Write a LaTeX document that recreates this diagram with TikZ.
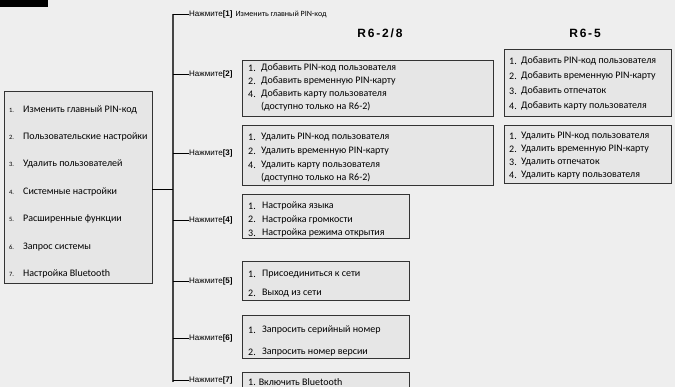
\documentclass[tikz,border=0pt]{standalone}
\usepackage{fontspec}
\setmainfont{Carlito}
\newfontfamily\arialf{Liberation Sans}
\definecolor{bgc}{HTML}{EEEEEE}
\definecolor{boxc}{HTML}{E6E6E6}
\definecolor{edgec}{HTML}{333333}
\definecolor{trunkc}{HTML}{444444}
\begin{document}
\begin{tikzpicture}[x=1pt,y=-1pt,
  box/.style={draw=edgec, fill=boxc, line width=0.8pt, inner sep=0pt, anchor=north west},
  item/.style={anchor=west, inner sep=0pt, text=black, font=\fontsize{10}{11}\selectfont},
  sitem/.style={anchor=west, inner sep=0pt, text=black, font=\fontsize{10}{11}\selectfont},
  num/.style={anchor=west, inner sep=0pt, text=black, font=\fontsize{6.5}{7}\selectfont},
  lbl/.style={anchor=west, inner sep=0pt, font=\arialf\fontsize{8}{9}\selectfont},
  ttl/.style={inner sep=0pt, font=\arialf\bfseries\fontsize{12}{13}\selectfont\addfontfeature{LetterSpace=15}},
  tick/.style={draw=black, line width=0.7pt},
  trunk/.style={draw=trunkc, line width=1.3pt}]
\fill[bgc] (0,0) rectangle (675,387);
\useasboundingbox (0,0) rectangle (675,387);
\fill[black] (0,0) rectangle (48,7);

% main menu box
\node[box, minimum width=148pt, minimum height=192pt] (menu) at (4,91) {};
\foreach \n/\t/\y in {1/Изменить главный PIN-код/110, 2/Пользовательские настройки/137, 3/Удалить пользователей/164, 4/Системные настройки/192, 5/Расширенные функции/219, 6/Запрос системы/247, 7/Настройка Bluetooth/274}{
  \node[num] (mn\n) at (9,\y) {\n.};
  \node[sitem] (mt\n) at (23,\y) {\t};
}

% trunk
\coordinate (ttop) at (173,14);
\coordinate (tbot) at (173,382);
\coordinate (tmid) at (173,189);
\draw[trunk] (ttop) -- (tbot);
\coordinate (mout) at (152,189);
\draw[tick] (mout) -- (tmid);

% labels
\node[lbl] (l1) at (189,14) {Нажмите\textbf{[1]}\hspace{3pt}{\rmfamily\fontsize{8}{9}\selectfont Изменить главный PIN-код}};
\node[lbl] (l2) at (189,74) {Нажмите\textbf{[2]}};
\node[lbl] (l3) at (189,153) {Нажмите\textbf{[3]}};
\node[lbl] (l4) at (189,220) {Нажмите\textbf{[4]}};
\node[lbl] (l5) at (189,281) {Нажмите\textbf{[5]}};
\node[lbl] (l6) at (189,338) {Нажмите\textbf{[6]}};
\node[lbl] (l7) at (189,380) {Нажмите\textbf{[7]}};
\foreach \k in {1,...,7}{
  \draw[tick] (l\k.west -| ttop) -- (l\k.west);
}

% titles
\node[ttl] (t1) at (380,33) {R6-2/8};
\node[ttl] (t2) at (585,33) {R6-5};

% [2] box R6-2/8
\node[box, minimum width=251pt, minimum height=56pt] (b2) at (242,60) {};
\node[item] at (248,68) {1.};  \node[item] at (261,68) {Добавить PIN-код пользователя};
\node[item] at (248,81) {2.};  \node[item] at (261,81) {Добавить временную PIN-карту};
\node[item] at (248,94) {4.};  \node[item] at (261,94) {Добавить карту пользователя};
\node[item] at (261,107) {(доступно только на R6-2)};

% [3] box R6-2/8
\node[box, minimum width=251pt, minimum height=60pt] (b3) at (242,125) {};
\node[item] at (248,137) {1.};  \node[item] at (261,137) {Удалить PIN-код пользователя};
\node[item] at (248,151) {2.};  \node[item] at (261,151) {Удалить временную PIN-карту};
\node[item] at (248,165) {4.};  \node[item] at (261,165) {Удалить карту пользователя};
\node[item] at (261,178) {(доступно только на R6-2)};

% R6-5 boxes
\node[box, minimum width=167pt, minimum height=67pt] (c2) at (504,49) {};
\node[item] at (509,61) {1.};  \node[item] at (521,61) {Добавить PIN-код пользователя};
\node[item] at (509,76) {2.};  \node[item] at (521,76) {Добавить временную PIN-карту};
\node[item] at (509,91) {3.};  \node[item] at (521,91) {Добавить отпечаток};
\node[item] at (509,106) {4.}; \node[item] at (521,106) {Добавить карту пользователя};

\node[box, minimum width=167pt, minimum height=58pt] (c3) at (504,125) {};
\node[item] at (509,136) {1.};  \node[item] at (521,136) {Удалить PIN-код пользователя};
\node[item] at (509,149) {2.};  \node[item] at (521,149) {Удалить временную PIN-карту};
\node[item] at (509,162) {3.};  \node[item] at (521,162) {Удалить отпечаток};
\node[item] at (509,175) {4.};  \node[item] at (521,175) {Удалить карту пользователя};

% [4]
\node[box, minimum width=167pt, minimum height=44pt] (b4) at (242,194) {};
\node[item] at (248,206) {1.};  \node[item] at (262,206) {Настройка языка};
\node[item] at (248,219.5) {2.};  \node[item] at (262,219.5) {Настройка громкости};
\node[item] at (248,233) {3.};  \node[item] at (262,233) {Настройка режима открытия};

% [5]
\node[box, minimum width=167pt, minimum height=39pt] (b5) at (242,261) {};
\node[item] at (248,274) {1.};  \node[item] at (262,274) {Присоединиться к сети};
\node[item] at (248,293) {2.};  \node[item] at (262,293) {Выход из сети};

% [6]
\node[box, minimum width=167pt, minimum height=43pt] (b6) at (242,315) {};
\node[item] at (248,330) {1.};  \node[item] at (262,330) {Запросить серийный номер};
\node[item] at (248,352) {2.};  \node[item] at (262,352) {Запросить номер версии};

% [7]
\node[box, minimum width=167pt, minimum height=30pt] (b7) at (242,372) {};
\node[item] at (248,382.5) {1. Включить Bluetooth};
\end{tikzpicture}
\end{document}
